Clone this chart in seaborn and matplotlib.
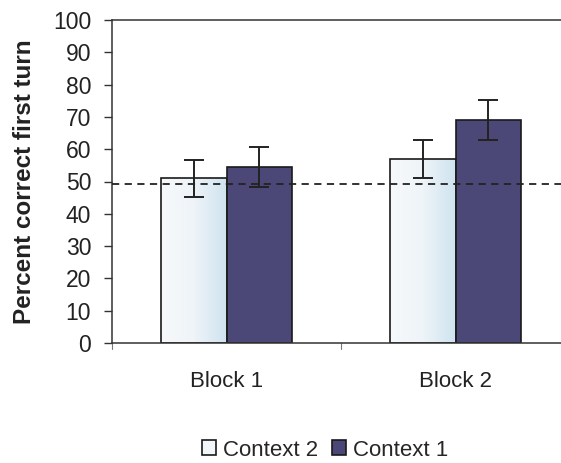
import matplotlib
matplotlib.use("Agg")
import matplotlib.pyplot as plt
import seaborn as sns
import pandas as pd
import numpy as np
from matplotlib.colors import LinearSegmentedColormap

blocks = ["Block 1", "Block 2"]
contexts = ["Context 2", "Context 1"]
ctx2_mean = [51, 57]
ctx1_mean = [54.5, 69]
ctx2_err = [5.7, 6.0]
ctx1_err = [6.3, 6.3]
chance = 49.2
yticks = list(range(0, 101, 10))

df = pd.DataFrame({
    "block": blocks * 2,
    "context": [contexts[0]] * 2 + [contexts[1]] * 2,
    "value": ctx2_mean + ctx1_mean,
})

sns.set_theme(style="white")
plt.rcParams["font.family"] = ["Liberation Sans", "DejaVu Sans"]

fig = plt.figure(figsize=(5.61, 4.63), dpi=100)
W, H = 561, 463
ax = fig.add_axes([112 / W, 120 / H, (570 - 112) / W, 323 / H])

palette = {"Context 2": "#f2f6f9", "Context 1": "#4b4878"}
sns.barplot(data=df, x="block", y="value", hue="context", hue_order=contexts,
            order=blocks, palette=palette, width=0.57, edgecolor="#1a1a1a",
            linewidth=1.2, errorbar=None, ax=ax, saturation=1)

# subtle light-blue gradient inside the Context 2 bars
cmap = LinearSegmentedColormap.from_list("g", ["#f7f9fb", "#eef4f8", "#cfe3ef"])
grad = np.linspace(0, 1, 100).reshape(1, -1)
for b in ax.containers[0]:
    x0, w, h = b.get_x(), b.get_width(), b.get_height()
    im = ax.imshow(grad, cmap=cmap, aspect="auto", extent=[x0, x0 + w, 0, h],
                   zorder=b.get_zorder() - 0.1, interpolation="bicubic")
    im.set_clip_path(b)
    b.set_facecolor("none")

for i, (means, errs) in enumerate([(ctx2_mean, ctx2_err), (ctx1_mean, ctx1_err)]):
    xs = [b.get_x() + b.get_width() / 2 for b in ax.containers[i]]
    ax.errorbar(xs, means, yerr=errs, fmt="none", ecolor="#222222",
                elinewidth=1.4, capsize=7, capthick=1.4, zorder=5)

ax.axhline(chance, color="#222222", linestyle=(0, (4, 3)), linewidth=1.3, zorder=6)

ax.set_xlim(-0.5, 1.5)
ax.set_ylim(0, 100)
ax.set_yticks(yticks)
ax.set_yticklabels([str(t) for t in yticks], fontsize=16.5, color="#222222")
ax.set_xticks([0, 1])
ax.set_xticklabels(blocks, fontsize=16, color="#222222")
ax.tick_params(axis="x", length=0, pad=20)
ax.tick_params(axis="y", left=True, length=6, width=1, color="#333333", direction="out", pad=9)
for xb in [-0.5, 0.5]:
    ax.plot([xb, xb], [0, -2], color="#777777", lw=0.8, clip_on=False)
ax.set_xlabel("")
ax.set_ylabel("Percent correct first turn", fontsize=17.5, fontweight="bold", color="#222222", labelpad=12)

for s in ["left", "bottom", "top"]:
    ax.spines[s].set_visible(True)
    ax.spines[s].set_color("#333333")
    ax.spines[s].set_linewidth(1.1)
ax.spines["right"].set_visible(False)

leg = ax.legend(loc="center", bbox_to_anchor=(325 / W, (H - 450) / H), bbox_transform=fig.transFigure,
                ncol=2, frameon=False, fontsize=16, handlelength=0.65, handleheight=0.65,
                handletextpad=0.3, columnspacing=0.6)
for h in leg.legend_handles:
    h.set_edgecolor("#1a1a1a")
    h.set_linewidth(1.2)

fig.savefig("out.png", dpi=100)
